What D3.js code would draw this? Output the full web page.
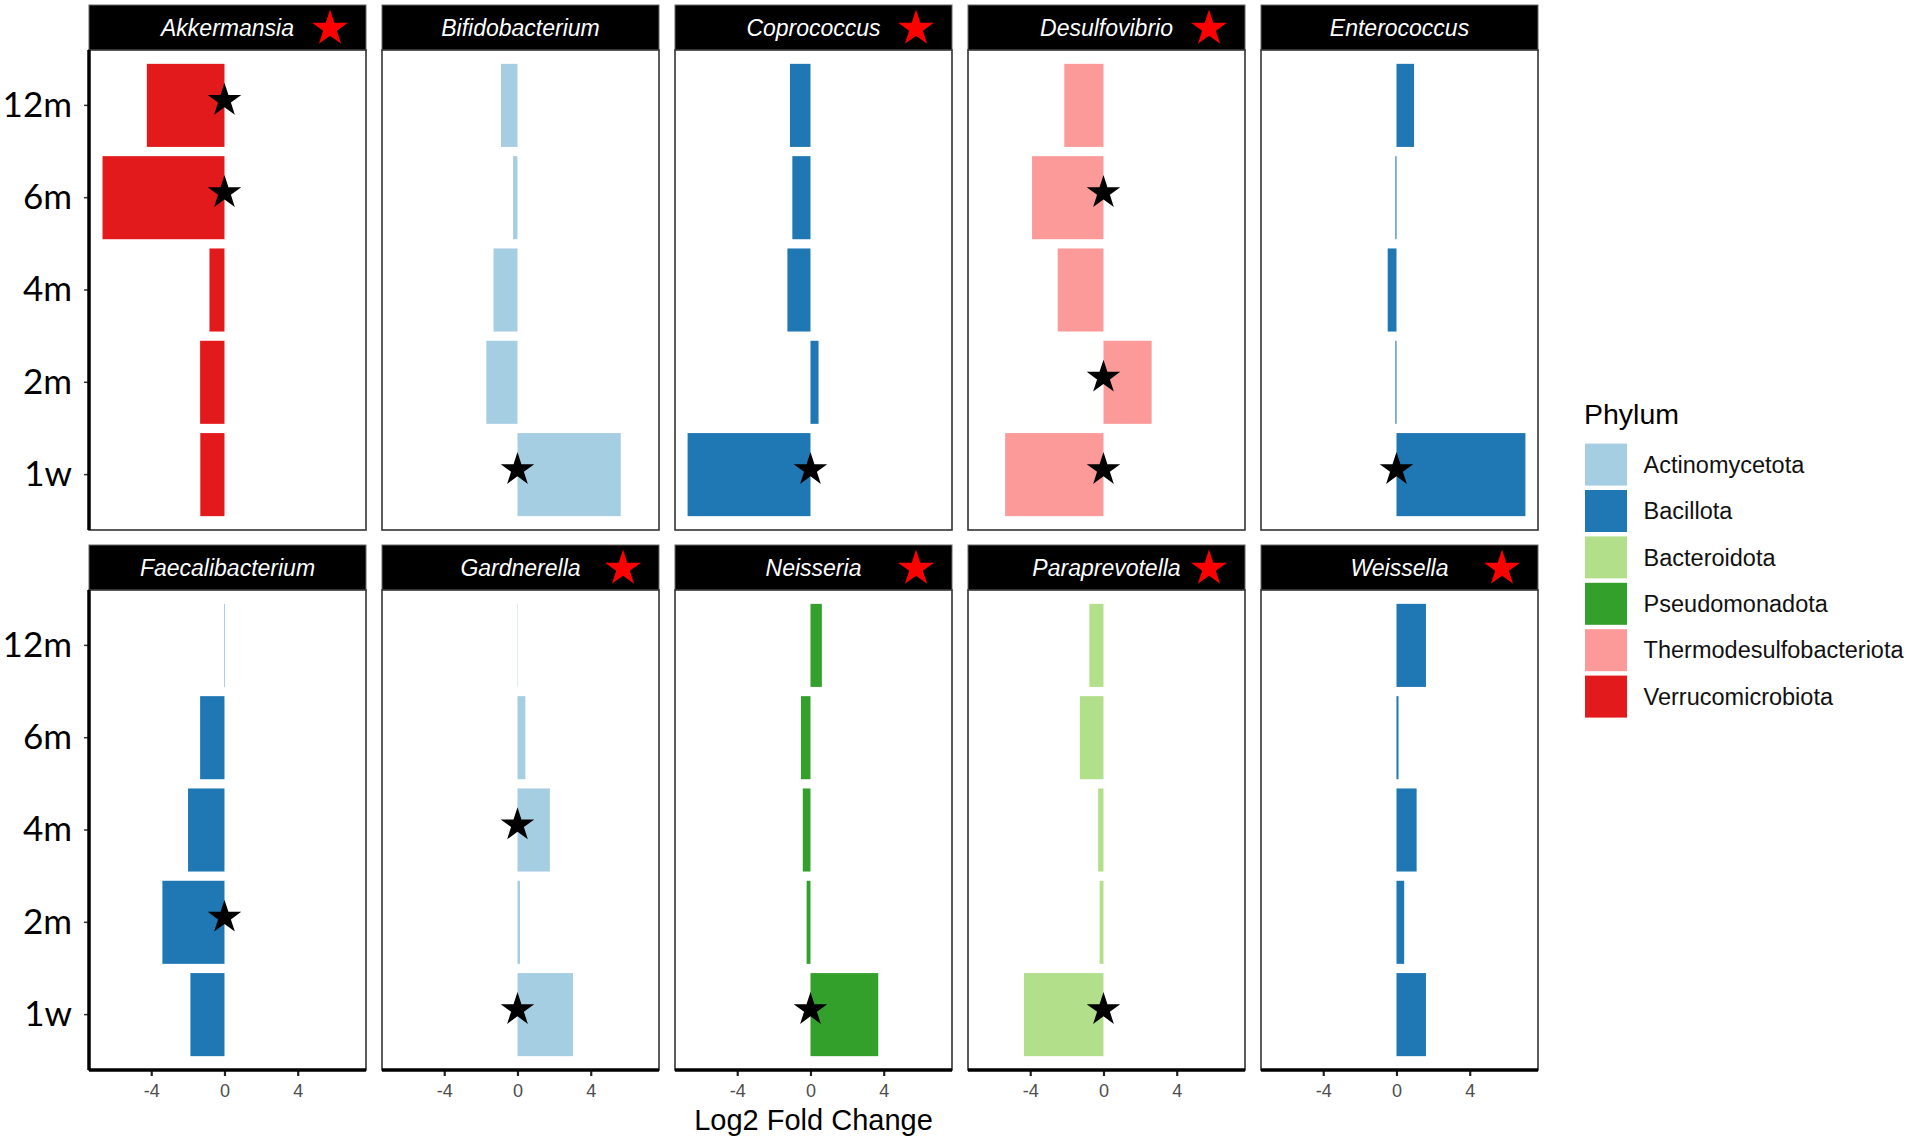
<!DOCTYPE html>
<html>
  <head>
    <meta charset="utf-8">
    <title>Log2 fold change by genus and time point</title>
    <script src="https://d3js.org/d3.v7.min.js"></script>
    <style>
      body { margin: 0; background: #fff; }
      svg { display: block; }
    </style>
  </head>
  <body>
    <script>
      var width = 1908;
      var height = 1144;

      // data
      var timepoints = ["12m", "6m", "4m", "2m", "1w"];
      var genera = ["Akkermansia", "Bifidobacterium", "Coprococcus", "Desulfovibrio", "Enterococcus",
                    "Faecalibacterium", "Gardnerella", "Neisseria", "Paraprevotella", "Weissella"];
      var generaPhylum = ["Verrucomicrobiota", "Actinomycetota", "Bacillota", "Thermodesulfobacteriota", "Bacillota",
                          "Bacillota", "Actinomycetota", "Pseudomonadota", "Bacteroidota", "Bacillota"];
      var phyla = ["Actinomycetota", "Bacillota", "Bacteroidota", "Pseudomonadota", "Thermodesulfobacteriota", "Verrucomicrobiota"];
      var phylaColors = ["#a6cee3", "#1f78b4", "#b2df8a", "#33a02c", "#fb9a99", "#e31a1c"];

      // one value per genus, same order as genera
      var lfc1w  = [-1.32,  5.64, -6.71, -5.37,  7.04, -1.86, 3.03,  3.70, -4.34, 1.61];
      var lfc2m  = [-1.33, -1.70,  0.44,  2.63, -0.06, -3.39, 0.14, -0.21, -0.21, 0.42];
      var lfc4m  = [-0.82, -1.31, -1.26, -2.50, -0.48, -1.99, 1.77, -0.42, -0.29, 1.10];
      var lfc6m  = [-6.66, -0.24, -0.99, -3.90, -0.06, -1.33, 0.43, -0.52, -1.29, 0.11];
      var lfc12m = [-4.24, -0.90, -1.12, -2.14,  0.96,  0.02, 0.02,  0.62, -0.77, 1.61];

      var sigPoints = [
        ["Akkermansia", "12m"], ["Akkermansia", "6m"], ["Bifidobacterium", "1w"], ["Coprococcus", "1w"],
        ["Desulfovibrio", "6m"], ["Desulfovibrio", "2m"], ["Desulfovibrio", "1w"], ["Enterococcus", "1w"],
        ["Faecalibacterium", "2m"], ["Gardnerella", "4m"], ["Gardnerella", "1w"], ["Neisseria", "1w"],
        ["Paraprevotella", "1w"]
      ];
      var sigGenera = ["Akkermansia", "Coprococcus", "Desulfovibrio", "Gardnerella", "Neisseria", "Paraprevotella", "Weissella"];
      var xTicks = [-4, 0, 4];

      var byTime = {"1w": lfc1w, "2m": lfc2m, "4m": lfc4m, "6m": lfc6m, "12m": lfc12m};
      var rows = [];
      genera.forEach(function(g, i) {
        timepoints.forEach(function(t) {
          rows.push({genus: g, time: t, value: byTime[t][i], phylum: generaPhylum[i]});
        });
      });

      var panelW = 277, panelH = 480, stripH = 45, colGap = 16;
      var left0 = 89;
      var stripTops = [5, 545];

      var svg = d3.select("body")
        .append("svg")
        .attr("width", width)
        .attr("height", height);

      var allVals = rows.map(function(d) { return d.value; });
      var lo = d3.min(allVals), hi = d3.max(allVals);
      var pad = (hi - lo) * 0.05;

      var xScale = d3.scaleLinear()
        .domain([lo - pad, hi + pad])
        .range([0, panelW]);

      var yScale = d3.scaleBand()
        .domain(timepoints)
        .range([0, panelH])
        .paddingInner(0.1)
        .paddingOuter(0.15);

      var colour = d3.scaleOrdinal().domain(phyla).range(phylaColors);
      var star = d3.symbol().type(d3.symbolStar);

      genera.forEach(function(g, i) {
        var col = i % 5, row = Math.floor(i / 5);
        var px = left0 + col * (panelW + colGap);
        var sy = stripTops[row];
        var py = sy + stripH;

        // strip
        var strip = svg.append("g").attr("transform", `translate(${px},${sy})`);
        strip.append("rect")
          .attr("width", panelW)
          .attr("height", stripH)
          .attr("fill", "#000")
          .attr("stroke", "#666")
          .attr("stroke-width", 1);
        strip.append("text")
          .attr("x", panelW / 2)
          .attr("y", stripH / 2 + 8)
          .attr("text-anchor", "middle")
          .attr("fill", "#fff")
          .style("font-family", "'Liberation Sans', Arial, sans-serif")
          .style("font-style", "italic")
          .style("font-size", "23px")
          .text(g);
        if (sigGenera.indexOf(g) >= 0) {
          strip.append("path")
            .attr("d", star.size(400)())
            .attr("transform", `translate(${panelW - 36},${stripH / 2 + 1})`)
            .attr("fill", "#ff0000");
        }

        // panel
        var panel = svg.append("g").attr("transform", `translate(${px},${py})`);
        panel.append("rect")
          .attr("width", panelW)
          .attr("height", panelH)
          .attr("fill", "#fff");

        panel.selectAll("rect.bar")
          .data(rows.filter(function(d) { return d.genus === g; }))
          .enter()
          .append("rect")
            .attr("class", "bar")
            .attr("x", function(d) { return xScale(Math.min(0, d.value)); })
            .attr("y", function(d) { return yScale(d.time); })
            .attr("width", function(d) { return Math.abs(xScale(d.value) - xScale(0)); })
            .attr("height", yScale.bandwidth())
            .attr("fill", function(d) { return colour(d.phylum); });

        panel.selectAll("path.sig")
          .data(sigPoints.filter(function(d) { return d[0] === g; }))
          .enter()
          .append("path")
            .attr("class", "sig")
            .attr("d", star.size(350)())
            .attr("transform", function(d) {
              return `translate(${xScale(0)},${yScale(d[1]) + yScale.bandwidth() / 2 - 5})`;
            })
            .attr("fill", "#000");

        panel.append("rect")
          .attr("width", panelW)
          .attr("height", panelH)
          .attr("fill", "none")
          .attr("stroke", "#333")
          .attr("stroke-width", 1.6);

        if (col === 0) {
          var yAxis = panel.append("g")
            .call(d3.axisLeft(yScale).tickSize(5).tickPadding(12));
          yAxis.select(".domain").remove();
          yAxis.selectAll(".tick line").attr("stroke", "#333").attr("stroke-width", 1.5);
          yAxis.selectAll("text")
            .attr("fill", "#000")
            .style("font-family", "Lato, 'Open Sans', sans-serif")
            .style("font-size", "35px");
          panel.append("line")
            .attr("x1", 0).attr("x2", 0)
            .attr("y1", 0).attr("y2", panelH)
            .attr("stroke", "#000")
            .attr("stroke-width", 3.5);
        }

        if (row === 1) {
          var xAxis = panel.append("g")
            .attr("transform", `translate(0,${panelH})`)
            .call(d3.axisBottom(xScale).tickValues(xTicks).tickSize(6).tickPadding(8)
              .tickFormat(function(d) { return String(d); }));
          xAxis.select(".domain").remove();
          xAxis.selectAll(".tick line").attr("stroke", "#222").attr("stroke-width", 2.2);
          xAxis.selectAll("text")
            .attr("fill", "#4d4d4d")
            .style("font-family", "'Liberation Sans', Arial, sans-serif")
            .style("font-size", "18px");
          panel.append("line")
            .attr("x1", 0).attr("x2", panelW)
            .attr("y1", panelH).attr("y2", panelH)
            .attr("stroke", "#000")
            .attr("stroke-width", 3.5);
        }
      });

      var xLabel = svg.append("text")
        .attr("x", left0 + 2 * (panelW + colGap) + panelW / 2)
        .attr("y", 1130)
        .attr("text-anchor", "middle")
        .attr("fill", "#000")
        .style("font-family", "'Liberation Sans', Arial, sans-serif")
        .style("font-size", "29px")
        .text("Log2 Fold Change");

      // legend
      var legend = svg.append("g").attr("transform", "translate(1585,0)");
      legend.append("text")
        .attr("x", -1)
        .attr("y", 424)
        .attr("fill", "#000")
        .style("font-family", "'Liberation Sans', Arial, sans-serif")
        .style("font-size", "28.5px")
        .text("Phylum");

      var keys = legend.selectAll("g.key")
        .data(phyla)
        .enter()
        .append("g")
          .attr("class", "key")
          .attr("transform", function(d, i) { return `translate(0,${443.6 + i * 46.4})`; });
      keys.append("rect")
        .attr("width", 42)
        .attr("height", 42)
        .attr("fill", function(d) { return colour(d); });
      keys.append("text")
        .attr("x", 58.6)
        .attr("y", 21)
        .attr("dy", "0.35em")
        .attr("fill", "#111")
        .style("font-family", "'Liberation Sans', Arial, sans-serif")
        .style("font-size", "23.5px")
        .text(function(d) { return d; });
    </script>
  </body>
</html>
